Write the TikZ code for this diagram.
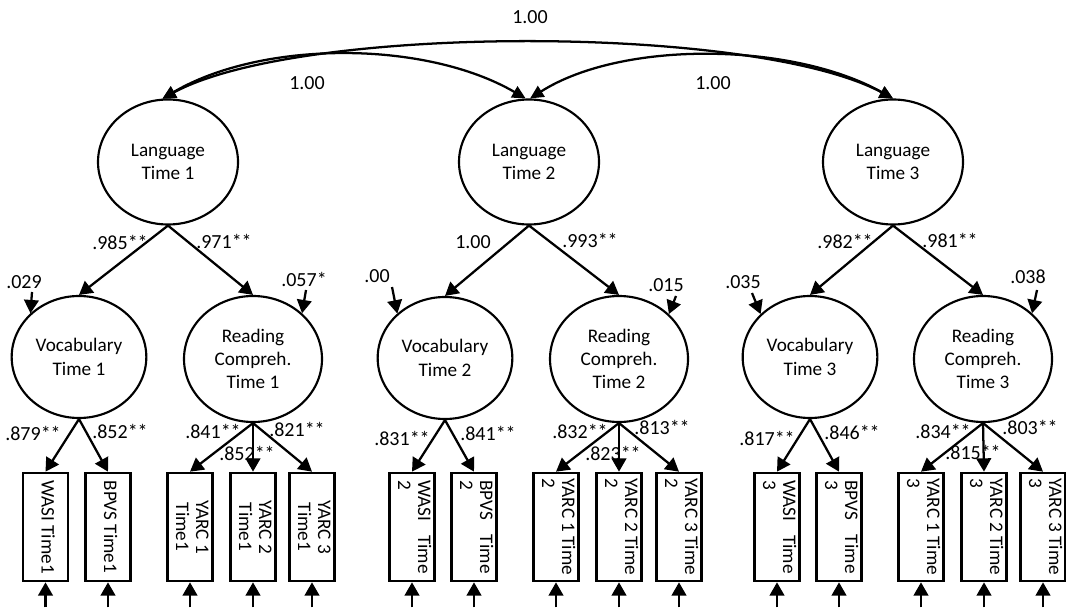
\documentclass[tikz,border=0pt]{standalone}
\usepackage{fontspec}
\setmainfont{Carlito}
\usetikzlibrary{shapes.geometric,arrows.meta,calc}
\newcommand{\vtc}[1]{\rotatebox{-90}{\fontsize{14.4}{15}\selectfont\begin{tabular}{@{}c@{}}#1\end{tabular}}}
\newcommand{\vtl}[2]{\rotatebox{-90}{\fontsize{14.4}{15}\selectfont\begin{tabular}{@{}l@{}}#1\\#2\end{tabular}}}
\begin{document}
\begin{tikzpicture}[x=0.75pt,y=-0.75pt,
  every node/.style={font=\fontsize{14.4}{17.5}\selectfont},
  lat/.style={ellipse, draw, line width=1.6pt, inner sep=0pt, align=center},
  lang/.style={lat, minimum width=105pt, minimum height=93.75pt},
  voc/.style={lat, minimum width=101pt, minimum height=91.5pt},
  rdg/.style={lat, minimum width=103.5pt, minimum height=94.5pt},
  obs/.style={draw, line width=2pt, minimum width=33.75pt, minimum height=81pt, inner sep=0pt},
  arr/.style={line width=1.7pt, -{Triangle[length=10pt,width=11pt]}},
  dbl/.style={line width=1.7pt, {Triangle[length=10pt,width=9.5pt]}-{Triangle[length=10pt,width=9.5pt]}},
  lab/.style={inner sep=0pt, font=\fontsize{15}{17.5}\selectfont}
]
\useasboundingbox (0,0) rectangle (1066,609);

% latent factors
\node[lang] (L1) at (168,162) {Language\\Time 1};
\node[lang] (L2) at (529,162) {Language\\Time 2};
\node[lang] (L3) at (893,162) {Language\\Time 3};
\node[voc] (V1) at (79,357) {Vocabulary\\Time 1};
\node[rdg] (R1) at (253,359) {Reading\\Compreh.\\Time 1};
\node[voc] (V2) at (445,358) {Vocabulary\\Time 2};
\node[rdg] (R2) at (619,359) {Reading\\Compreh.\\Time 2};
\node[voc] (V3) at (810,357) {Vocabulary\\Time 3};
\node[rdg] (R3) at (983,359) {Reading\\Compreh.\\Time 3};

% observed
\node[obs] (W1) at (45.5,527) {\vtc{WASI Time1}};
\node[obs] (B1) at (108,527) {\vtc{BPVS Time1}};
\node[obs] (Y11) at (190,527) {\vtc{YARC 1\\Time1}};
\node[obs] (Y21) at (253,527) {\vtc{YARC 2\\Time1}};
\node[obs] (Y31) at (312,527) {\vtc{YARC 3\\Time1}};
\node[obs] (W2) at (412,527) {\vtl{\hbox to 70pt{WASI\hfill Time}}{2}};
\node[obs] (B2) at (474,527) {\vtl{\hbox to 70pt{BPVS\hfill Time}}{2}};
\node[obs] (Y12) at (556,527) {\vtl{YARC 1 Time}{2}};
\node[obs] (Y22) at (619,527) {\vtl{YARC 2 Time}{2}};
\node[obs] (Y32) at (679,527) {\vtl{YARC 3 Time}{2}};
\node[obs] (W3) at (777,527) {\vtl{\hbox to 70pt{WASI\hfill Time}}{3}};
\node[obs] (B3) at (839,527) {\vtl{\hbox to 70pt{BPVS\hfill Time}}{3}};
\node[obs] (Y13) at (921,527) {\vtl{YARC 1 Time}{3}};
\node[obs] (Y23) at (984,527) {\vtl{YARC 2 Time}{3}};
\node[obs] (Y33) at (1043,527) {\vtl{YARC 3 Time}{3}};

% correlations between language factors
\draw[dbl] (L1.95) .. controls (300,24) and (754,24) .. (L3.90);
\draw[dbl] (L1.95) .. controls (262,40) and (425,40) .. (L2.93);
\draw[dbl] (L2.89) .. controls (622,40) and (792,42) .. (L3.90);
\node[lab] (c13) at (530,17) {1.00};
\node[lab] (c12) at (307,83) {1.00};
\node[lab] (c23) at (713,83) {1.00};

% second-order loadings
\draw[arr] (L1.south) -- (V1.north);
\draw[arr] (L1.south) -- (R1.north);
\draw[arr] (L2.south) -- (V2.north);
\draw[arr] (L2.south) -- (R2.north);
\draw[arr] (L3.south) -- (V3.north);
\draw[arr] (L3.south) -- (R3.north);
\node[lab] (g1a) at (120,242) {.985**};
\node[lab] (g1b) at (224,241) {.971**};
\node[lab] (g2a) at (473,242) {1.00};
\node[lab] (g2b) at (590,240) {.993**};
\node[lab] (g3a) at (845,241) {.982**};
\node[lab] (g3b) at (950,240) {.981**};

% disturbances
\coordinate (dV1) at (32,292);
\coordinate (dR1) at (306,290);
\coordinate (dV2) at (392,287);
\coordinate (dR2) at (676,296);
\coordinate (dV3) at (752,293);
\coordinate (dR3) at (1037,290);
\draw[arr] (dV1) -- (V1.138);
\draw[arr] (dR1) -- (R1.43);
\draw[arr] (dV2) -- (V2.137);
\draw[arr] (dR2) -- (R2.42);
\draw[arr] (dV3) -- (V3.139);
\draw[arr] (dR3) -- (R3.43);
\node[lab] (eV1) at (24,282) {.029};
\node[lab] (eR1) at (304,279) {.057*};
\node[lab] (eV2) at (377,276) {.00};
\node[lab] (eR2) at (666,285) {.015};
\node[lab] (eV3) at (743,282) {.035};
\node[lab] (eR3) at (1028,277) {.038};

% first-order loadings
\draw[arr] (V1.south) -- (W1.north);
\draw[arr] (V1.south) -- (B1.north);
\draw[arr] (R1.south) -- (Y11.north);
\draw[arr] (R1.south) -- (Y21.north);
\draw[arr] (R1.south) -- (Y31.north);
\draw[arr] (V2.south) -- (W2.north);
\draw[arr] (V2.south) -- (B2.north);
\draw[arr] (R2.south) -- (Y12.north);
\draw[arr] (R2.south) -- (Y22.north);
\draw[arr] (R2.south) -- (Y32.north);
\draw[arr] (V3.south) -- (W3.north);
\draw[arr] (V3.south) -- (B3.north);
\draw[arr] (R3.south) -- (Y13.north);
\draw[arr] (R3.south) -- (Y23.north);
\draw[arr] (R3.south) -- (Y33.north);
\node[lab] (m1) at (33,433) {.879**};
\node[lab] (m2) at (120,431) {.852**};
\node[lab] (m3) at (213,431) {.841**};
\node[lab] (m4) at (247,453) {.852**};
\node[lab] (m5) at (297,429) {.821**};
\node[lab] (m6) at (402,438) {.831**};
\node[lab] (m7) at (488,433) {.841**};
\node[lab] (m8) at (580,431) {.832**};
\node[lab] (m9) at (613,453) {.823**};
\node[lab] (m10) at (662,427) {.813**};
\node[lab] (m11) at (767,438) {.817**};
\node[lab] (m12) at (852,432) {.846**};
\node[lab] (m13) at (943,431) {.834**};
\node[lab] (m14) at (973,452) {.815**};
\node[lab] (m15) at (1030,427) {.803**};

% residuals of indicators
\foreach \b in {W1,B1,Y11,Y21,Y31,W2,B2,Y12,Y22,Y32,W3,B3,Y13,Y23,Y33}{
  \coordinate (e\b) at ($(\b.south)+(0,25)$);
  \draw[arr] (e\b) -- (\b.south);
}
\end{tikzpicture}
\end{document}
